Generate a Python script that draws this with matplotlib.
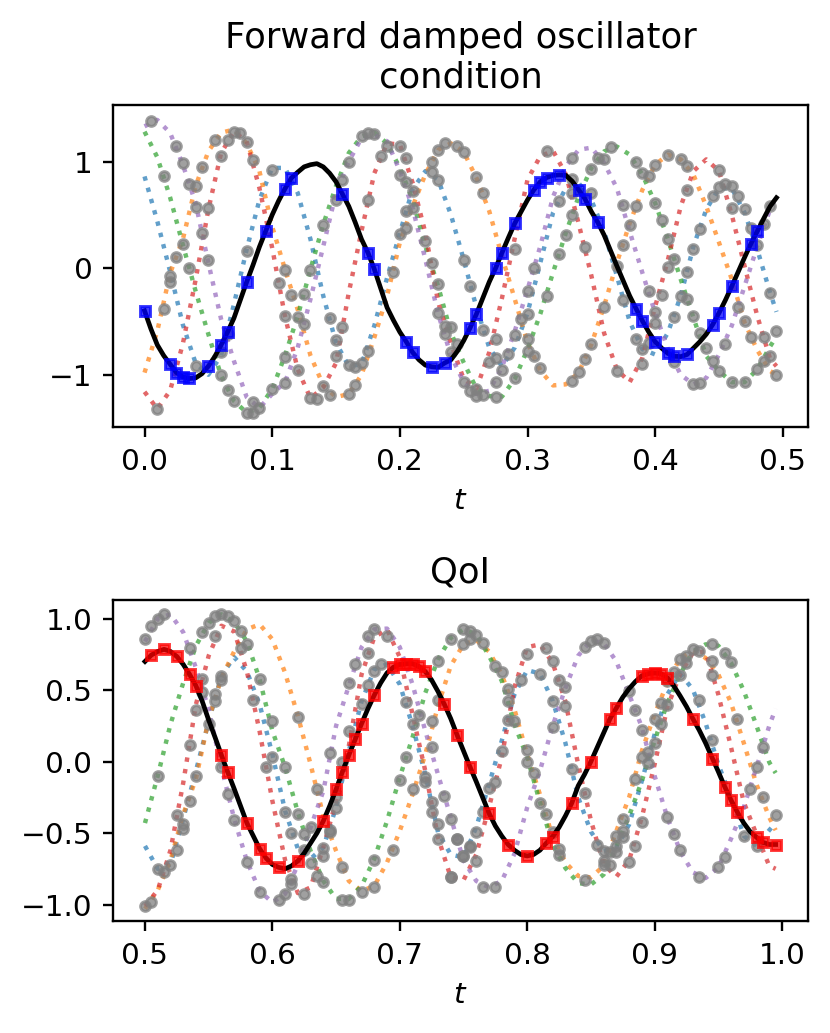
import numpy as np
import matplotlib
matplotlib.use('Agg')
import matplotlib.pyplot as plt

# time grids the curves were read on
t_fwd = np.append(np.arange(50) * 0.01, 0.495)
t_qoi = t_fwd + 0.5
t_fwd_fine = np.arange(100) * 0.005
t_qoi_fine = t_fwd_fine + 0.5

# forward condition: black reference and observed squares
fwd_true = [-.40, -.57, -.72, -.82, -.90, -.98, -1.02, -1.035, -1.03, -.99,
            -.92, -.83, -.72, -.60, -.47, -.30, -.13, .03, .20, .35,
            .50, .63, .745, .845, .90, .95, .97, .98, .95, .89,
            .81, .695, .58, .43, .27, .145, -.01, -.19, -.37, -.49,
            -.60, -.69, -.79, -.86, -.91, -.925, -.93, -.89, -.86, -.78,
            -.68, -.56, -.43, -.28, -.13, 0, .145, .285, .42, .53,
            .64, .735, .81, .85, .87, .875, .87, .815, .735, .65,
            .53, .43, .31, .165, .02, -.12, -.26, -.38, -.495, -.60,
            -.69, -.75, -.80, -.825, -.83, -.81, -.75, -.69, -.62, -.53,
            -.42, -.30, -.17, -.035, .10, .23, .345, .465, .58, .66]
fwd_obs_t = [0, .02, .025, .03, .035, .05, .06, .065, .08, .095, .11, .115, .155, .175, .18,
             .205, .21, .225, .235, .255, .26, .275, .28, .29, .305, .31, .315, .325, .34, .345,
             .355, .385, .39, .40, .41, .415, .425, .445, .45, .46, .475, .48]
fwd_obs_y = [-.40, -.90, -.98, -1.02, -1.035, -.92, -.72, -.60, -.13, .35, .745, .845, .695, .145, -.01,
             -.69, -.79, -.925, -.89, -.56, -.43, 0, .145, .42, .735, .81, .85, .875, .735, .65,
             .43, -.38, -.495, -.69, -.80, -.825, -.81, -.53, -.42, -.17, .23, .345]

# forward condition: five sampled trajectories
fwd_c0 = [.86, .44, -.03, -.53, -.89, -1.0, -.82, -.34, .175, .64,
          .94, .94, .705, .27, -.26, -.70, -.92, -.90, -.54, -.09,
          .33, .74, .91, .83, .50, .08, -.37, -.745, -.92, -.745,
          -.42, .05, .52, .75, .80, .64, .345, -.075, -.50, -.76,
          -.81, -.605, -.26, .205, .55, .75, .75, .52, .175, -.23, -.41]
fwd_c1 = [-.98, -.59, -.05, .27, .77, 1.095, 1.27, 1.30, 1.17, .91,
          .39, -.01, -.39, -.82, -1.10, -1.21, -1.18, -1.0, -.65, -.26,
          .24, .58, .88, 1.11, 1.17, 1.09, .845, .535, .11, -.29,
          -.70, -.96, -1.10, -1.09, -.98, -.715, -.355, .05, .42, .735,
          .97, 1.065, 1.02, .875, .58, .24, -.105, -.51, -.77, -.965, -1.0]
fwd_c2 = [1.28, 1.04, .665, .22, -.215, -.62, -1.01, -1.245, -1.355, -1.31,
          -1.135, -.82, -.45, -.01, .41, .77, 1.08, 1.235, 1.27, 1.17,
          .94, .64, .205, -.17, -.605, -.885, -1.13, -1.20, -1.205, -1.04,
          -.76, -.43, -.04, .33, .67, .94, 1.095, 1.14, 1.065, .875,
          .61, .27, -.105, -.465, -.825, -.965, -1.07, -1.07, -.95, -.735, -.64]
fwd_c3 = [-1.16, -1.32, -1.15, -.71, -.11, .55, 1.08, 1.28, 1.19, .75,
          .19, -.45, -.95, -1.22, -1.12, -.89, -.23, .35, .89, 1.17,
          1.16, .80, .33, -.32, -.71, -1.04, -1.13, -.79, -.28, .28,
          .83, 1.05, 1.10, .88, .42, -.07, -.61, -.95, -1.07, -.84,
          -.36, .08, .58, .91, 1.02, .91, .50, .02, -.45, -.85, -.92]
fwd_c4 = [1.33, 1.39, 1.27, .97, .61, .05, -.48, -.87, -1.21, -1.31,
          -1.18, -1.07, -.745, -.29, .205, .705, 1.0, 1.22, 1.25, 1.19,
          .91, .565, .08, -.43, -.82, -1.07, -1.18, -1.15, -.93, -.59,
          -.20, .205, .67, .955, 1.11, 1.13, .985, .75, .345, -.045,
          -.42, -.76, -1.0, -1.09, -1.03, -.81, -.54, -.17, .205, .55, .67]

fwd_grey_t = [.005, .025, .03, .015, .035, .04, .04, .05, .045, .03, .025, .035, .05, .02, .02, .015,
              .065, .06, .04, .06, .065, .01, .07, .08, .085, .085, .09, .10, .11, .11, .12, .13,
              .135, .14, .145, .16, .165, .17, .165, .16, .175, .15, .15, .155, .145, .125, .12, .11,
              .115, .125, .105, .11, .13, .08, .14, .15, .155, .175, .10, .085, .08, .075, .07, .065,
              .055, .06, .045, .16, .17, .175, .18, .19, .20, .205, .185, .20, .205, .21, .205, .21,
              .205, .20, .22, .195, .225, .23, .23, .235, .24, .235, .245, .24, .25, .255, .225, .23,
              .235, .245, .25, .225, .23, .25, .255, .26, .265, .265, .275, .275, .27, .28, .275, .29,
              .285, .29, .30, .30, .305, .31, .295, .30, .30, .315, .305, .325, .29, .33, .345, .335,
              .325, .335, .35, .335, .315, .335, .35, .355, .36, .365, .385, .39, .395, .40, .41, .42,
              .425, .45, .375, .385, .40, .405, .38, .375, .41, .37, .415, .41, .425, .43, .435, .445,
              .425, .45, .455, .46, .465, .46, .47, .475, .48, .485, .49, .395, .405, .42, .425, .375,
              .36, .40, .40, .415, .43, .465, .47, .49, .475, .485, .495, .455, .44, .435, .385, .39,
              .395, .35, .345, .34, .335, .37, .39, .415, .43, .435, .445, .45, .46, .47, .48, .485,
              .49, .495, .26, .26, .265, .275]
fwd_grey_y = [1.376, 1.15, .99, .86, .79, .77, .57, .56, .33, .23, .10, 0, .08, -.07, -.13, -.38,
              -.62, -.79, -.92, -1.0, -1.145, -1.32, -1.245, -1.355, -1.355, -1.26, -1.31, -1.135, -1.08, -.83, -.96, -1.22,
              -1.23, -1.11, -1.19, -1.18, -1.10, -.89, -.93, -.91, -.78, -.82, -.67, -.55, -.47, -.52, -.46, -.45,
              -.25, -.24, -.14, -.02, -.02, .16, .40, .64, .83, .64, .92, 1.01, 1.18, 1.27, 1.28, 1.20,
              1.20, 1.05, .945, 1.0, 1.235, 1.27, 1.26, 1.15, 1.15, 1.03, 1.055, .87, .81, .72, .54, .565,
              .38, .32, .25, -.04, .05, -.15, -.42, -.54, -.55, -.62, -.71, -.79, -1.07, -1.15, 1.0, 1.11,
              1.17, 1.15, 1.09, .90, .83, .075, -.17, .855, .70, -.58, -.66, -.84, -.88, -.955, -1.07, -1.035,
              -.81, -.63, -.66, -.78, -.82, -.94, -.48, -.43, -.215, -.26, 0, .13, .175, .315, .195, .50,
              .63, .70, .70, .84, 1.10, 1.03, .93, 1.03, 1.02, 1.14, 1.0, .89, .86, .965, 1.065, 1.02,
              .96, .92, .59, .58, .61, .45, .40, .22, .275, .02, .09, .01, -.04, .175, .37, .68,
              .735, .76, .79, .77, .68, .56, .555, .38, .22, .41, .585, -.215, -.255, -.26, -.285, -.30,
              -.365, -.41, -.51, -.455, -.45, -.36, -.50, -.23, -.65, -.65, -.59, -.71, -.745, -.605, -.66, -.76,
              -.70, -.715, -.855, -.97, -1.06, -.965, -.90, -.885, -1.09, -1.08, -.87, -.965, -1.07, -1.07, -.95, -.87,
              -.82, -1.0, -1.13, -1.20, -1.19, -1.21]

# QoI: black reference and observed squares
qoi_true = [.70, .745, .77, .785, .77, .735, .68, .61, .53, .42,
            .29, .17, .045, -.075, -.19, -.31, -.43, -.52, -.61, -.675,
            -.72, -.74, -.75, -.73, -.695, -.64, -.57, -.50, -.415, -.31,
            -.195, -.07, .045, .155, .265, .37, .465, .55, .62, .66,
            .68, .685, .685, .665, .63, .57, .49, .40, .30, .185,
            .075, -.035, -.14, -.25, -.36, -.45, -.52, -.58, -.62, -.65,
            -.66, -.65, -.62, -.57, -.525, -.46, -.38, -.29, -.17, -.09,
            0, .10, .20, .30, .375, .45, .51, .56, .60, .615,
            .62, .615, .585, .53, .46, .385, .30, .22, .13, .03,
            -.07, -.175, -.27, -.355, -.43, -.49, -.53, -.565, -.58, -.58]
qoi_obs_t = [.505, .515, .525, .535, .54, .56, .565, .58, .59, .595, .605, .62, .64, .65, .655,
             .66, .665, .67, .68, .695, .70, .705, .71, .715, .72, .735, .745, .755, .77, .785,
             .80, .815, .82, .835, .85, .865, .87, .89, .895, .90, .905, .91, .93, .945, .955,
             .96, .965, .98, .985, .995]
qoi_obs_y = [.745, .785, .735, .61, .53, .045, -.075, -.43, -.61, -.675, -.735, -.695, -.415, -.195, -.07,
             .045, .155, .265, .465, .66, .68, .685, .685, .665, .63, .40, .185, -.035, -.36, -.58,
             -.66, -.57, -.525, -.29, 0, .30, .375, .60, .615, .62, .615, .585, .30, .015, -.175,
             -.27, -.355, -.53, -.565, -.58]

# QoI: five sampled trajectories
qoi_c0 = [-.59, -.75, -.72, -.40, -.065, .28, .60, .73, .63, .40,
          .05, -.345, -.61, -.68, -.60, -.32, .075, .42, .645, .68,
          .54, .25, -.09, -.495, -.65, -.67, -.46, -.16, .145, .47,
          .64, .615, .425, .13, -.25, -.49, -.625, -.60, -.44, -.135,
          .19, .47, .615, .505, .27, -.02, -.25, -.52, -.59, -.48, -.43]
qoi_c1 = [-1.03, -.90, -.69, -.37, -.12, .295, .585, .77, .925, .96,
          .855, .62, .32, -.02, -.38, -.625, -.835, -.905, -.87, -.705,
          -.485, -.23, .05, .39, .67, .82, .85, .77, .61, .365,
          .05, -.23, -.53, -.705, -.80, -.81, -.73, -.485, -.25, .075,
          .33, .55, .725, .77, .725, .61, .41, .13, -.16, -.39, -.48]
qoi_c2 = [-.43, -.10, .26, .55, .81, .97, 1.03, .975, .84, .575,
          .215, -.04, -.355, -.625, -.835, -.96, -.96, -.87, -.68, -.415,
          -.11, .17, .48, .715, .865, .925, .89, .74, .565, .26,
          .03, -.285, -.58, -.745, -.85, -.86, -.79, -.59, -.38, -.135,
          .145, .41, .61, .77, .82, .81, .69, .495, .25, -.005, -.08]
qoi_c3 = [-1.01, -.90, -.62, -.15, .40, .74, .95, .91, .63, .21,
          -.275, -.69, -.92, -.88, -.60, -.275, .11, .61, .87, .925,
          .73, .33, -.065, -.53, -.81, -.83, -.65, -.32, .03, .52,
          .80, .82, .69, .42, -.02, -.41, -.72, -.805, -.69, -.39,
          -.02, .38, .61, .76, .77, .47, .10, -.285, -.51, -.73, -.75]
qoi_c4 = [.84, 1.0, 1.03, .905, .655, .365, -.04, -.40, -.695, -.905,
          -.985, -.925, -.72, -.46, -.205, .25, .53, .80, .925, .93,
          .80, .54, .215, -.09, -.39, -.69, -.835, -.88, -.835, -.645,
          -.32, -.065, .25, .515, .74, .845, .83, .70, .47, .24,
          -.10, -.39, -.625, -.775, -.815, -.74, -.54, -.32, -.04, .25, .37]

qoi_grey_t = [.50, .505, .51, .515, .50, .505, .51, .51, .515, .52, .525, .525, .53, .53, .535, .54,
              .535, .54, .55, .545, .545, .535, .545, .55, .555, .56, .565, .57, .575, .555, .58, .575,
              .56, .56, .555, .555, .59, .585, .62, .60, .60, .595, .61, .56, .565, .57, .58, .59,
              .605, .61, .615, .615, .625, .61, .62, .615, .625, .63, .625, .63, .635, .64, .64, .64,
              .645, .645, .65, .65, .635, .645, .655, .66, .66, .665, .675, .67, .675, .675, .68, .68,
              .685, .69, .655, .655, .66, .67, .68, .68, .695, .70, .71, .705, .705, .71, .715, .725,
              .725, .72, .72, .725, .725, .735, .73, .73, .74, .745, .75, .755, .74, .73, .73, .74,
              .75, .75, .755, .76, .765, .755, .775, .78, .785, .785, .785, .79, .78, .80, .80, .805,
              .795, .80, .81, .815, .82, .825, .83, .82, .83, .82, .835, .845, .81, .815, .82, .825,
              .825, .845, .765, .77, .775, .76, .745, .755, .75, .76, .74, .765, .775, .845, .85, .855,
              .86, .88, .885, .89, .90, .905, .91, .905, .90, .895, .89, .895, .885, .875, .875, .87,
              .875, .87, .89, .885, .855, .86, .865, .87, .86, .86, .865, .88, .91, .915, .92, .935,
              .95, .955, .97, .98, .91, .915, .92, .92, .925, .925, .93, .935, .945, .955, .96, .945,
              .945, .935, .965, .945, .985, .98, .975, .985, .995]
qoi_grey_y = [.86, .95, 1.0, 1.035, -1.01, -.985, -.10, -.75, -.775, -.72, -.62, -.375, -.44, -.47, -.275, -.10,
              .115, .36, .26, .575, .49, .795, .905, .97, 1.02, 1.03, 1.02, .98, .91, .88, .82, .795,
              .60, .57, .47, .425, .58, .43, .31, .285, .03, -.04, -.04, -.04, -.23, -.41, -.705, -.91,
              -.97, -.925, -.82, -.855, -.925, -.35, -.365, -.50, -.51, -.46, -.62, -.71, -.80, -.845, -.66, -.605,
              -.495, -.48, -.325, -.25, -.19, .06, -.005, .215, .55, .685, .535, .40, .76, .875, .925, .635,
              .685, .88, -.74, -.97, -.97, -.91, -.88, -.685, -.62, -.13, -.19, .03, .42, .26, .325, .285,
              .10, -.105, -.14, -.28, -.355, -.24, -.44, -.54, -.40, -.54, -.66, -.59, -.805, .70, .43, .86,
              .825, .925, .91, .885, .83, .86, .665, .625, .51, .425, .29, .285, .075, .08, -.005, -.08,
              .57, .755, .615, .795, .70, .57, .525, .425, .39, .24, -.055, -.22, -.29, -.37, -.495, -.61,
              -.65, -.825, -.35, -.185, -.145, -.49, -.54, -.595, -.66, -.695, -.81, -.88, -.88, .80, .845, .855,
              .83, .495, .36, .22, .30, .41, .395, .26, .13, .065, .03, -.01, -.125, -.40, -.485, -.52,
              -.53, -.59, -.425, -.59, -.58, -.625, -.63, -.635, -.695, -.72, -.725, -.705, -.385, -.51, -.62, -.805,
              -.74, -.67, -.52, -.59, .565, .625, .605, .715, .74, .69, .79, .77, .825, .76, .695, .705,
              .605, .43, .295, .15, .10, -.04, -.195, -.25, -.375]

cycle = ['C0', 'C1', 'C2', 'C3', 'C4']

def draw_panel(ax, t, curves, t_fine, true, grey_t, grey_y, obs_t, obs_y, obs_color):
    for c, curve in zip(cycle, curves):
        ax.plot(t, curve, ':', color=c, alpha=0.7, lw=1.5)
    ax.plot(grey_t, grey_y, 'o', color='gray', alpha=0.75, ms=3.3)
    ax.plot(t_fine, true, 'k-', lw=1.6)
    ax.plot(obs_t, obs_y, 's', color=obs_color, alpha=0.75, ms=3.3)
    ax.set_xlabel('$t$')

fig = plt.figure(figsize=(830 / 212, 1033 / 212), dpi=212)
ax1 = fig.add_axes([113 / 830, 1 - 427 / 1033, 695 / 830, 322 / 1033])
ax2 = fig.add_axes([113 / 830, 1 - 921 / 1033, 695 / 830, 321 / 1033])

draw_panel(ax1, t_fwd, [fwd_c0, fwd_c1, fwd_c2, fwd_c3, fwd_c4], t_fwd_fine, fwd_true,
           fwd_grey_t, fwd_grey_y, fwd_obs_t, fwd_obs_y, 'b')
ax1.set_title('Forward damped oscillator\ncondition')
ax1.set_xlim(-0.0247, 0.5197)
ax1.set_ylim(-1.49, 1.53)

draw_panel(ax2, t_qoi, [qoi_c0, qoi_c1, qoi_c2, qoi_c3, qoi_c4], t_qoi_fine, qoi_true,
           qoi_grey_t, qoi_grey_y, qoi_obs_t, qoi_obs_y, 'r')
ax2.set_title('QoI')
ax2.set_xlim(0.4749, 1.0204)
ax2.set_ylim(-1.115, 1.13)

fig.savefig('out.png')
